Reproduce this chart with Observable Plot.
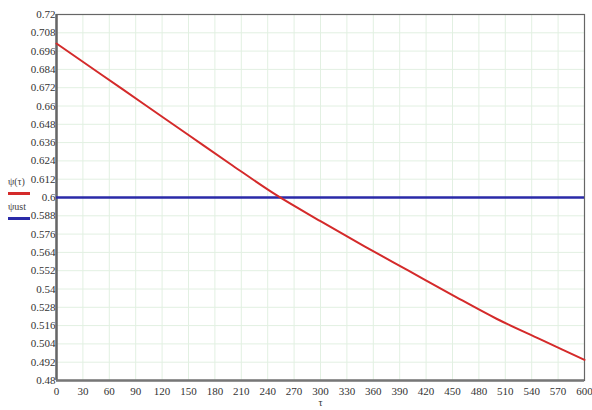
<!DOCTYPE html>
<html>
<head>
<meta charset="utf-8">
<script src="https://cdn.jsdelivr.net/npm/d3@7"></script>
<script src="https://cdn.jsdelivr.net/npm/@observablehq/plot@0.6"></script>
<style>
  html, body { margin: 0; padding: 0; background: #fff; }
  #wrap { position: relative; width: 592px; height: 410px; }
  #wrap svg text { font-family: "Liberation Serif", "DejaVu Serif", serif; }
  .leg { position: absolute; font-family: "Liberation Serif", serif; font-size: 10px; color: #444; }
  .legline { position: absolute; height: 3px; }
</style>
</head>
<body>
<div id="wrap"></div>
<script>
// data
const tau = [0, 50, 100, 150, 200, 250, 300, 350, 400, 450, 500, 550, 600];
const psi = [0.701, 0.681, 0.661, 0.641, 0.621, 0.6015, 0.5845, 0.568, 0.552, 0.536, 0.5205, 0.507, 0.4935];
const psiUst = 0.6;
const xTicks = [0, 30, 60, 90, 120, 150, 180, 210, 240, 270, 300, 330, 360, 390, 420, 450, 480, 510, 540, 570, 600];
const yTicks = [0.48, 0.492, 0.504, 0.516, 0.528, 0.54, 0.552, 0.564, 0.576, 0.588, 0.6, 0.612, 0.624, 0.636, 0.648, 0.66, 0.672, 0.684, 0.696, 0.708, 0.72];
const seriesNames = ["ψ(τ)", "ψust"];
const xLabel = "τ";

const curve = tau.map((t, i) => ({t, v: psi[i]}));

const chart = Plot.plot({
  width: 592,
  height: 410,
  marginTop: 14,
  marginBottom: 30,
  marginLeft: 56,
  marginRight: 8,
  style: {fontFamily: "'Liberation Serif', serif", fontSize: "11px", color: "#333", background: "#fff"},
  x: {domain: [0, 600], ticks: xTicks, tickSize: 0, tickPadding: 7, label: null, tickFormat: d => String(d)},
  y: {domain: [0.48, 0.72], ticks: yTicks, tickSize: 0, tickPadding: 1, label: null, tickFormat: d => String(+d.toFixed(3))},
  marks: [
    Plot.gridX(xTicks, {stroke: "#e2f0e2", strokeOpacity: 1, strokeWidth: 1}),
    Plot.gridY(yTicks, {stroke: "#e2f0e2", strokeOpacity: 1, strokeWidth: 1}),
    Plot.frame({stroke: "#666", strokeWidth: 1.2}),
    Plot.ruleX([0], {stroke: "#666", strokeWidth: 2.5}),
    Plot.ruleY([0.48], {stroke: "#777", strokeWidth: 2.5}),
    Plot.ruleY([psiUst], {stroke: "#2a2aa8", strokeWidth: 2.5}),
    Plot.line(curve, {x: "t", y: "v", stroke: "#d42a2a", strokeWidth: 2, curve: "monotone-x"}),
    Plot.text([xLabel], {frameAnchor: "bottom", dy: 25, fontSize: 10, fill: "#333"})
  ]
});
const wrap = document.getElementById("wrap");
wrap.appendChild(chart);

// legend
const legColors = ["#d42a2a", "#2a2aa8"];
const legTop = [176, 201];
seriesNames.forEach((name, i) => {
  const t = document.createElement("div");
  t.className = "leg";
  t.style.left = "8px";
  t.style.top = legTop[i] + "px";
  t.textContent = name;
  wrap.appendChild(t);
  const l = document.createElement("div");
  l.className = "legline";
  l.style.left = "8px";
  l.style.width = "22px";
  l.style.top = (legTop[i] + 16) + "px";
  l.style.background = legColors[i];
  wrap.appendChild(l);
});
</script>
</body>
</html>
